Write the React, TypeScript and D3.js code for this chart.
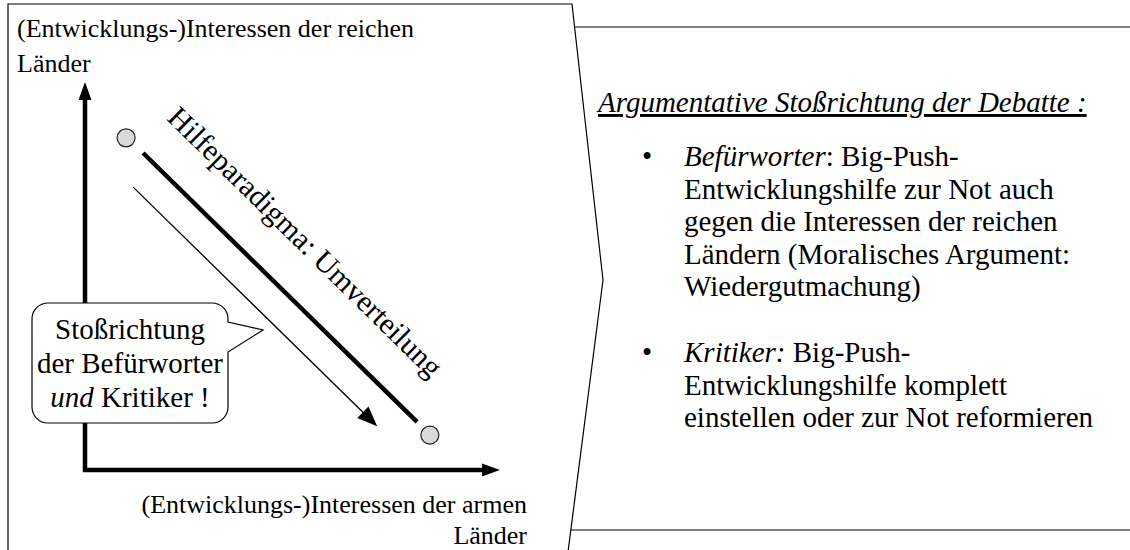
import React from 'react';
import * as d3 from 'd3';

const W = 1130;
const H = 550;

// Achsenbeschriftung
const yAxisLabel = ['(Entwicklungs-)Interessen der reichen', 'Länder'];
const xAxisLabel = ['(Entwicklungs-)Interessen der armen', 'Länder'];

// Interessen-Raum 0..1 (x = arme Länder, y = reiche Länder)
const paradigmPoints: [number, number][] = [[0.099, 0.856], [0.831, 0.09]];
const paradigmLine: [number, number][] = [[0.14, 0.817], [0.8, 0.124]];
const thrustArrow: [number, number][] = [[0.116, 0.729], [0.704, 0.113]];
const paradigmLabel = 'Hilfeparadigma: Umverteilung';

// Sprechblase
const calloutLines = [
  [{ t: 'Stoßrichtung' }],
  [{ t: 'der Befürworter' }],
  [{ t: 'und', i: true }, { t: ' Kritiker !' }],
];

// rechte Seite
const debateTitle = 'Argumentative Stoßrichtung der Debatte :';
const debateBullets = [
  {
    head: 'Befürworter',
    first: ': Big-Push-',
    lines: [
      'Entwicklungshilfe zur Not auch',
      'gegen die Interessen der reichen',
      'Ländern (Moralisches Argument:',
      'Wiedergutmachung)',
    ],
  },
  {
    head: 'Kritiker:',
    first: ' Big-Push-',
    lines: ['Entwicklungshilfe komplett', 'einstellen oder zur Not reformieren'],
  },
];

const FONT = '"Liberation Serif", "Times New Roman", serif';

function arrowHead(tip: [number, number], from: [number, number], len: number, half: number) {
  const a = Math.atan2(tip[1] - from[1], tip[0] - from[0]);
  const bx = tip[0] - len * Math.cos(a);
  const by = tip[1] - len * Math.sin(a);
  const nx = -Math.sin(a) * half;
  const ny = Math.cos(a) * half;
  return `M${tip[0]},${tip[1]}L${bx + nx},${by + ny}L${bx - nx},${by - ny}Z`;
}

export default function App() {
  const x = d3.scaleLinear().domain([0, 1]).range([85, 500]);
  const y = d3.scaleLinear().domain([0, 1]).range([470, 82]);

  const px = (p: [number, number]): [number, number] => [x(p[0]), y(p[1])];

  // Achsen
  const origin = px([0, 0]);
  const yTip = px([0, 1]);
  const xTip = px([1, 0]);

  // Paradigma-Linie + Beschriftung (oberhalb, parallel)
  const l0 = px(paradigmLine[0]);
  const l1 = px(paradigmLine[1]);
  const ang = Math.atan2(l1[1] - l0[1], l1[0] - l0[0]);
  const angDeg = (ang * 180) / Math.PI;
  const mid: [number, number] = [(l0[0] + l1[0]) / 2, (l0[1] + l1[1]) / 2];
  const off = 40;
  const back = 14;
  const labelPos: [number, number] = [
    mid[0] + Math.sin(ang) * off - Math.cos(ang) * back,
    mid[1] - Math.cos(ang) * off - Math.sin(ang) * back,
  ];

  // Stoßrichtungs-Pfeil
  const a0 = px(thrustArrow[0]);
  const a1 = px(thrustArrow[1]);
  const aAng = Math.atan2(a1[1] - a0[1], a1[0] - a0[0]);
  const aBase: [number, number] = [a1[0] - 16 * Math.cos(aAng), a1[1] - 16 * Math.sin(aAng)];

  // Sprechblase
  const bx0 = 32, by0 = 303, bx1 = 228, by1 = 423, r = 16;
  const bubble =
    `M${bx0 + r},${by0}H${bx1 - r}A${r},${r} 0 0 1 ${bx1},${by0 + r}` +
    `V322L263,330L${bx1},352V${by1 - r}A${r},${r} 0 0 1 ${bx1 - r},${by1}` +
    `H${bx0 + r}A${r},${r} 0 0 1 ${bx0},${by1 - r}V${by0 + r}A${r},${r} 0 0 1 ${bx0 + r},${by0}Z`;

  // Rahmen links (mit Spitze nach rechts)
  const frame = 'M8,552L8,4L572,4L603,280L568,552';

  const lineH = 32.5;
  const fs = 29;

  return (
    <svg
      width={W}
      height={H}
      style={{ position: 'absolute', left: 0, top: 0, background: '#fff' }}
      fontFamily={FONT}
    >
      <path d={frame} fill="none" stroke="#000" strokeWidth={1.2} />
      <line x1={575} y1={27} x2={W} y2={27} stroke="#000" strokeWidth={1.2} />
      <line x1={571} y1={530} x2={W} y2={530} stroke="#000" strokeWidth={1.2} />

      {/* Achsen */}
      <path
        d={`M${yTip[0]},${yTip[1] + 14}V${origin[1]}H${xTip[0] - 14}`}
        fill="none"
        stroke="#000"
        strokeWidth={4.5}
      />
      <path d={arrowHead(yTip, origin, 18, 6.5)} fill="#000" />
      <path d={arrowHead(xTip, origin, 18, 6.5)} fill="#000" />

      {yAxisLabel.map((t, i) => (
        <text key={t + i} x={17} y={37 + i * 35} fontSize={26}>
          {t}
        </text>
      ))}
      {xAxisLabel.map((t, i) => (
        <text key={t + i} x={527} y={513 + i * 31} fontSize={26} textAnchor="end">
          {t}
        </text>
      ))}

      {/* Paradigma */}
      <line x1={l0[0]} y1={l0[1]} x2={l1[0]} y2={l1[1]} stroke="#000" strokeWidth={4.5} />
      <line x1={a0[0]} y1={a0[1]} x2={aBase[0]} y2={aBase[1]} stroke="#000" strokeWidth={1.3} />
      <path d={arrowHead(a1, a0, 20, 8)} fill="#000" />
      {paradigmPoints.map((p, i) => (
        <circle key={i} cx={x(p[0])} cy={y(p[1])} r={9} fill="#d9d9d9" stroke="#222" strokeWidth={1.2} />
      ))}
      <text
        transform={`translate(${labelPos[0]},${labelPos[1]}) rotate(${angDeg})`}
        textAnchor="middle"
        fontSize={30}
      >
        {paradigmLabel}
      </text>

      {/* Sprechblase */}
      <path d={bubble} fill="#fff" stroke="#000" strokeWidth={1.2} />
      {calloutLines.map((segs, i) => (
        <text key={i} x={(bx0 + bx1) / 2} y={339 + i * 34} fontSize={fs} textAnchor="middle">
          {segs.map((s, j) => (
            <tspan key={j} fontStyle={s.i ? 'italic' : 'normal'}>
              {s.t}
            </tspan>
          ))}
        </text>
      ))}

      {/* rechte Seite */}
      <text x={598} y={112} fontSize={fs} fontStyle="italic" style={{ textDecoration: 'underline' }}>
        {debateTitle}
      </text>
      {debateBullets.map((b, bi) => {
        const y0 = bi === 0 ? 166 : 362;
        return (
          <g key={bi}>
            <text x={642} y={y0} fontSize={fs}>
              •
            </text>
            <text x={684} y={y0} fontSize={fs}>
              <tspan fontStyle="italic">{b.head}</tspan>
              <tspan>{b.first}</tspan>
            </text>
            {b.lines.map((t, i) => (
              <text key={i} x={684} y={y0 + (i + 1) * lineH} fontSize={fs}>
                {t}
              </text>
            ))}
          </g>
        );
      })}
    </svg>
  );
}
